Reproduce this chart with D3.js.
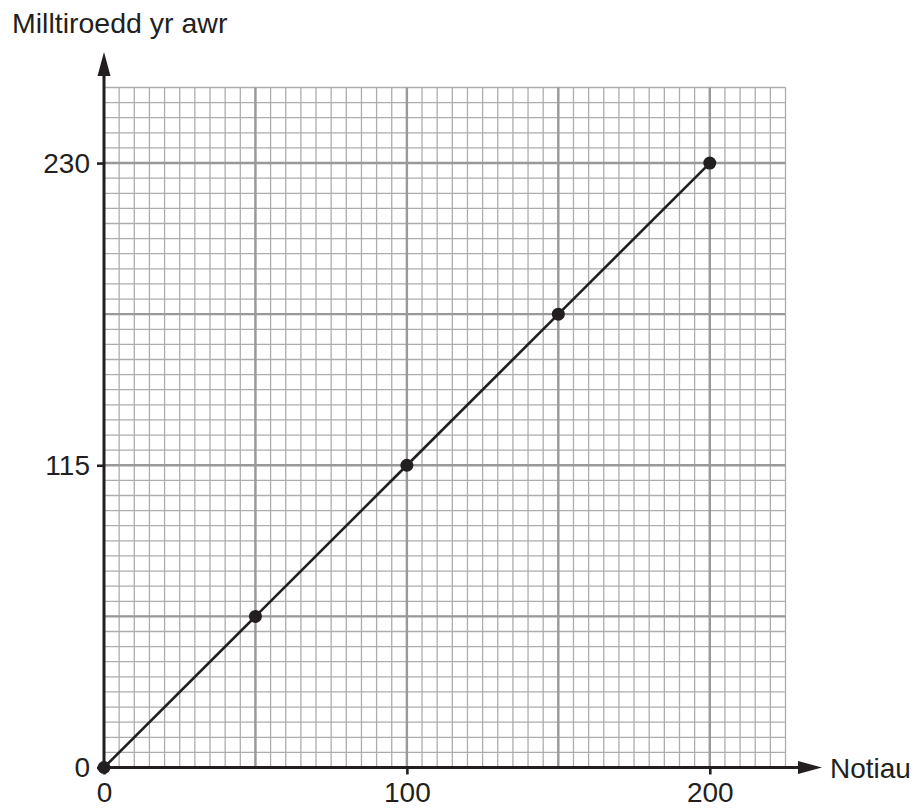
<!DOCTYPE html>
<html>
<head>
<meta charset="utf-8">
<script src="https://cdn.jsdelivr.net/npm/d3@7"></script>
<style>
  body { margin: 0; background: #fff; }
  text { font-family: "Liberation Sans", Arial, sans-serif; fill: #231f20; }
</style>
</head>
<body>
<div id="wrapper"></div>
<script>
// data
const hours = [0, 50, 100, 150, 200];
const miles = [0, 57.5, 115, 172.5, 230];
const xTickValues = [0, 100, 200];
const yTickValues = [0, 115, 230];
const xTitle = "Notiau";
const yTitle = "Milltiroedd yr awr";

const createChart = () => {
  const points = hours.map((h, i) => ({ x: h, y: miles[i] }));

  let dimensions = {
    width: 920,
    height: 808,
    margin: { top: 87.5, right: 134.5, bottom: 40.5, left: 104 }
  };
  dimensions.boundedWidth = dimensions.width - dimensions.margin.left - dimensions.margin.right;
  dimensions.boundedHeight = dimensions.height - dimensions.margin.top - dimensions.margin.bottom;

  const wrapper = d3.select("#wrapper")
    .append("svg")
    .attr("width", dimensions.width)
    .attr("height", dimensions.height);

  const bounds = wrapper.append("g")
    .attr("transform", `translate(${dimensions.margin.left},${dimensions.margin.top})`);

  // scales: grid runs 5 minor cells past the last major line
  const xScale = d3.scaleLinear()
    .domain([0, 225])
    .range([0, dimensions.boundedWidth]);
  const yScale = d3.scaleLinear()
    .domain([0, 258.75])
    .range([dimensions.boundedHeight, 0]);

  // grid
  const xMinor = d3.range(0, 225 + 0.01, 5);
  const yMinor = d3.range(0, 258.75 + 0.01, 5.75);
  const xMajor = [50, 100, 150, 200];
  const yMajor = [57.5, 115, 172.5, 230];

  const grid = bounds.append("g");
  grid.selectAll(".vminor").data(xMinor).join("line")
    .attr("x1", d => xScale(d)).attr("x2", d => xScale(d))
    .attr("y1", 0).attr("y2", dimensions.boundedHeight)
    .attr("stroke", "#adadad").attr("stroke-width", 1.3);
  grid.selectAll(".hminor").data(yMinor).join("line")
    .attr("y1", d => yScale(d)).attr("y2", d => yScale(d))
    .attr("x1", 0).attr("x2", dimensions.boundedWidth)
    .attr("stroke", "#adadad").attr("stroke-width", 1.3);
  grid.selectAll(".vmajor").data(xMajor).join("line")
    .attr("x1", d => xScale(d)).attr("x2", d => xScale(d))
    .attr("y1", 0).attr("y2", dimensions.boundedHeight)
    .attr("stroke", "#999999").attr("stroke-width", 2.4);
  grid.selectAll(".hmajor").data(yMajor).join("line")
    .attr("y1", d => yScale(d)).attr("y2", d => yScale(d))
    .attr("x1", 0).attr("x2", dimensions.boundedWidth)
    .attr("stroke", "#999999").attr("stroke-width", 2.4);

  // axes with tick labels
  const yAxisGenerator = d3.axisLeft(yScale)
    .tickValues(yTickValues)
    .tickSize(7)
    .tickPadding(7)
    .tickFormat(d3.format("d"));
  const yAxis = bounds.append("g").call(yAxisGenerator);

  const xAxisGenerator = d3.axisBottom(xScale)
    .tickValues(xTickValues)
    .tickSize(7)
    .tickPadding(8)
    .tickFormat(d3.format("d"));
  const xAxis = bounds.append("g")
    .attr("transform", `translate(0,${dimensions.boundedHeight})`)
    .call(xAxisGenerator);

  [xAxis, yAxis].forEach(ax => {
    ax.select(".domain").remove();
    ax.selectAll(".tick line").attr("stroke", "#231f20").attr("stroke-width", 2.6);
    ax.selectAll(".tick text")
      .attr("fill", "#231f20")
      .style("font-size", "28px")
      .style("font-family", "'Liberation Sans', Arial, sans-serif");
  });

  // axis lines with arrow heads
  const ink = "#231f20";
  bounds.append("line")
    .attr("x1", 0).attr("x2", 0)
    .attr("y1", dimensions.boundedHeight).attr("y2", yScale(258.75) - 14)
    .attr("stroke", ink).attr("stroke-width", 3);
  bounds.append("path")
    .attr("d", `M0,${-35.5} L-6.5,${-11.5} L6.5,${-11.5} Z`)
    .attr("fill", ink);

  bounds.append("line")
    .attr("x1", 0).attr("x2", xScale(225) + 16)
    .attr("y1", dimensions.boundedHeight).attr("y2", dimensions.boundedHeight)
    .attr("stroke", ink).attr("stroke-width", 3);
  bounds.append("path")
    .attr("d", `M${xScale(225) + 36.5},${dimensions.boundedHeight} L${xScale(225) + 12.5},${dimensions.boundedHeight - 6.5} L${xScale(225) + 12.5},${dimensions.boundedHeight + 6.5} Z`)
    .attr("fill", ink);

  // line and points
  const lineGenerator = d3.line()
    .x(d => xScale(d.x))
    .y(d => yScale(d.y));
  bounds.append("path")
    .attr("d", lineGenerator(points))
    .attr("fill", "none")
    .attr("stroke", ink)
    .attr("stroke-width", 2.6);

  bounds.selectAll(".dot").data(points).join("circle")
    .attr("cx", d => xScale(d.x))
    .attr("cy", d => yScale(d.y))
    .attr("r", 6.5)
    .attr("fill", ink);

  // titles
  wrapper.append("text")
    .attr("x", 12)
    .attr("y", 33)
    .style("font-size", "28.5px")
    .text(yTitle);

  wrapper.append("text")
    .attr("x", 830)
    .attr("y", dimensions.margin.top + dimensions.boundedHeight + 10)
    .style("font-size", "28px")
    .text(xTitle);
};

createChart();
</script>
</body>
</html>
